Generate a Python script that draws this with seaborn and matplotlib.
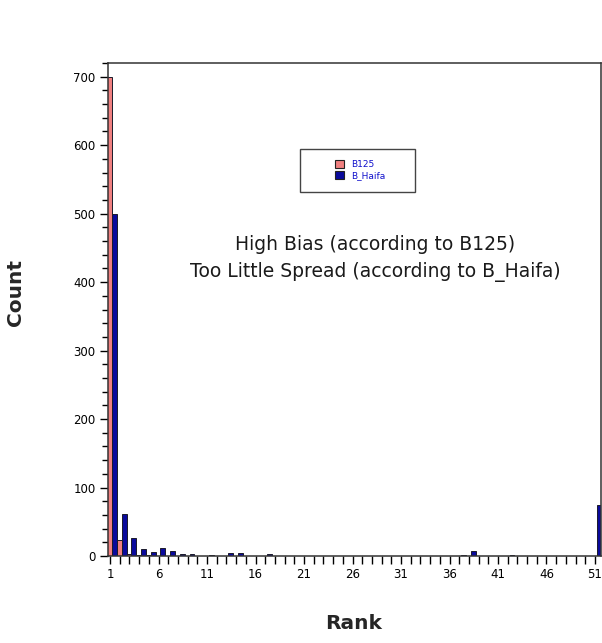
import numpy as np
import pandas as pd
import seaborn as sns
import matplotlib
matplotlib.use("Agg")
import matplotlib.pyplot as plt
from matplotlib.patches import Patch, Rectangle
from matplotlib.ticker import MultipleLocator, FixedLocator

# ---- data ----
ranks = list(range(1, 52))
b125 = [700, 23, 3, 2, 1] + [0] * 46
b_haifa = [500, 61, 27, 10, 6, 11, 7, 3, 3, 0,
           2, 0, 5, 5, 0, 0, 3, 0, 0, 0,
           0, 0, 0, 0, 0, 0, 0, 0, 0, 0,
           0, 0, 0, 0, 0, 0, 2, 8, 0, 0,
           0, 2, 0, 0, 0, 0, 0, 0, 0, 0,
           75]
series_names = ["B125", "B_Haifa"]
tick_labels = [str(r) for r in range(1, 52, 5)]
annotation_lines = ["High Bias (according to B125)",
                    "Too Little Spread (according to B_Haifa)"]

df = pd.DataFrame({
    "rank": ranks * 2,
    "count": b125 + b_haifa,
    "series": [series_names[0]] * len(ranks) + [series_names[1]] * len(ranks),
})

sns.set_theme(style="white")
plt.rcParams["font.family"] = ["DejaVu Sans"]

colors = {"B125": "#F08080", "B_Haifa": "#0A0A9C"}

fig = plt.figure(figsize=(6.02, 6.43), dpi=100)
ax = fig.add_axes([108 / 602, 87 / 643, 493 / 602, 493 / 643])

offset = 0.3
sns.histplot(data=df, x="rank", weights="count", hue="series",
             hue_order=series_names, binwidth=1,
             binrange=(ranks[0] - offset, ranks[-1] + 1 - offset),
             multiple="dodge", shrink=1.0, palette=colors, alpha=1,
             edgecolor="#1a1a2a", linewidth=0.7, legend=False, ax=ax)

ax.set_xlim(0.79, 51.62)
ax.set_ylim(0, 720)

ax.yaxis.set_major_locator(MultipleLocator(100))
ax.yaxis.set_minor_locator(MultipleLocator(20))
ax.xaxis.set_major_locator(FixedLocator(list(range(1, 52, 5))))
ax.set_xticklabels(tick_labels)
ax.xaxis.set_minor_locator(MultipleLocator(1))
ax.tick_params(axis="both", which="both", direction="out", colors="black",
               bottom=True, left=True, top=False, right=False)
ax.tick_params(axis="both", which="major", length=6, width=1.0,
               labelsize=8.5, pad=3)
ax.tick_params(axis="x", which="minor", length=6, width=1.0)
ax.tick_params(axis="y", which="minor", length=4, width=1.0)

for s in ax.spines.values():
    s.set_visible(True)
    s.set_color("#333333")
    s.set_linewidth(1.1)

ax.set_xlabel("Rank", fontsize=14.5, fontweight="bold")
ax.set_ylabel("Count", fontsize=14.5, fontweight="bold")
ax.xaxis.set_label_coords(0.499, -0.118)
ax.yaxis.set_label_coords(-0.168, 0.535)

ax.text(0.542, 0.631, annotation_lines[0], transform=ax.transAxes,
        ha="center", va="center", fontsize=13.5, color="#1a1a1a")
ax.text(0.542, 0.576, annotation_lines[1], transform=ax.transAxes,
        ha="center", va="center", fontsize=13.5, color="#1a1a1a")

# legend
handles = [Patch(facecolor=colors[n], edgecolor="#222222", linewidth=0.8, label=n)
           for n in series_names]
leg = ax.legend(handles=handles, loc="center left",
                bbox_to_anchor=((330 - 108) / 493, (556 - 170) / 493),
                frameon=False, fontsize=6.5, handlelength=1.0,
                handleheight=1.0, handletextpad=0.8, labelspacing=0.3,
                borderpad=0)
for t in leg.get_texts():
    t.set_color("#1010CC")
ax.add_patch(Rectangle(((300 - 108) / 493, (556 - 192) / 493),
                       115 / 493, 43 / 493, transform=ax.transAxes,
                       fill=False, edgecolor="#444444", linewidth=1.0,
                       zorder=4))

fig.savefig("out.png", dpi=100)
